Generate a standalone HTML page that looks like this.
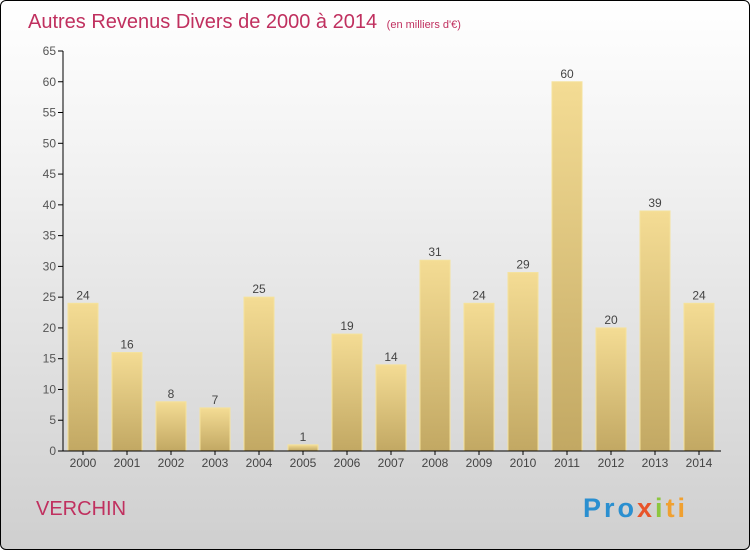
<!DOCTYPE html>
<html><head><meta charset="utf-8"><style>
body{margin:0}
#c{width:750px;height:550px;position:relative;box-sizing:border-box;border:1px solid #000;border-radius:6px;background:linear-gradient(#ffffff,#f4f4f4 25%,#cfcfcf);overflow:hidden;font-family:"Liberation Sans",sans-serif}
</style></head><body>
<div id="c">
<svg width="750" height="550" style="position:absolute;left:0;top:0">
<defs><linearGradient id="g" x1="0" y1="0" x2="0" y2="1"><stop offset="0" stop-color="#f4dc94"/><stop offset="1" stop-color="#c2a863"/></linearGradient></defs>
<text x="27" y="27" font-size="20" fill="#c0305f">Autres Revenus Divers de 2000 à 2014 <tspan font-size="11" dx="4">(en milliers d'€)</tspan></text>
<g id="plot"></g>
<text x="35" y="514" font-size="20" fill="#c0305f">VERCHIN</text>
<text x="582" y="516" font-size="27" font-weight="bold" letter-spacing="3"><tspan fill="#2a8fd0">Pro</tspan><tspan fill="#e8542a">x</tspan><tspan fill="#8cc63f">i</tspan><tspan fill="#f0a030">ti</tspan></text>
</svg></div>
<script>
const years=["2000","2001","2002","2003","2004","2005","2006","2007","2008","2009","2010","2011","2012","2013","2014"];
const values=[24,16,8,7,25,1,19,14,31,24,29,60,20,39,24];
const yTicks=[0,5,10,15,20,25,30,35,40,45,50,55,60,65];
const NS="http://www.w3.org/2000/svg";
const g=document.getElementById('plot');
const y=v=>450-v*400/65, x=i=>82+i*44;
function mk(t,a,txt){const e=document.createElementNS(NS,t);for(const k in a)e.setAttribute(k,a[k]);if(txt!==undefined)e.textContent=txt;g.appendChild(e);return e;}
yTicks.forEach(t=>{
 const l=mk('line',{x1:57,x2:62,y1:y(t),y2:y(t),stroke:'#000'});
 
 
 const tx=mk('text',{x:55,y:y(t)+4,'text-anchor':'end','font-size':12,fill:'#555'},t);
 
 
});
values.forEach((v,i)=>{
 const r=mk('rect',{x:x(i)-15,y:y(v),width:30,height:450-y(v),fill:'url(#g)',stroke:'#f5e29c','stroke-width':1});
 
 
 const vl=mk('text',{x:x(i),y:y(v)-4,'text-anchor':'middle','font-size':12,fill:'#444'},v);
 
 
 const xl=mk('text',{x:x(i),y:466,'text-anchor':'middle','font-size':12,fill:'#444'},years[i]);
 
 
 const tk=mk('line',{x1:x(i),x2:x(i),y1:450,y2:454,stroke:'#000'});
 
 
});
const ya=mk('line',{x1:62,x2:62,y1:50,y2:450,stroke:'#000'});


const xa=mk('line',{x1:62,x2:720,y1:450,y2:450,stroke:'#000'});


</script>
</body></html>
